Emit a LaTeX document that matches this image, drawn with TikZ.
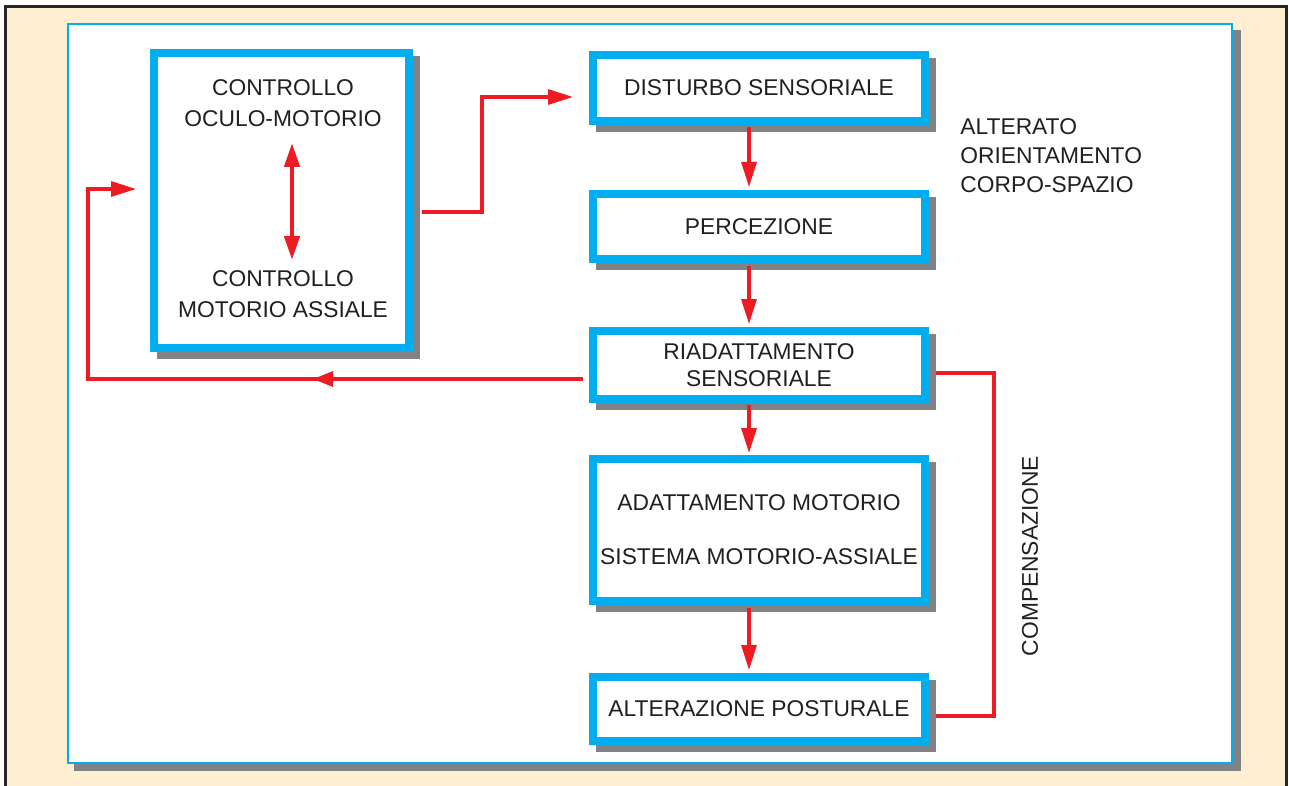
\documentclass[tikz,border=0pt]{standalone}
\usepackage{fontspec}
\setmainfont{Liberation Sans}
\usetikzlibrary{arrows.meta,decorations.markings}
\definecolor{cyanb}{HTML}{00AEEF}
\definecolor{redl}{HTML}{ED1C24}
\definecolor{sgray}{HTML}{808285}
\definecolor{cream}{HTML}{FEEED2}
\definecolor{txt}{HTML}{231F20}
\pgfdeclarelayer{bgl}
\pgfdeclarelayer{shl}
\pgfsetlayers{bgl,shl,main}
\begin{document}
\begin{tikzpicture}[x=0.5pt,y=-0.5pt,
  font=\fontsize{11.4}{13.5}\selectfont, text=txt,
  boxn/.style={draw=cyanb, line width=4pt, fill=white, inner sep=0pt, align=center},
  lbl/.style={inner sep=0pt, align=center},
  redline/.style={draw=redl, line width=1.6pt},
  arr/.style={redline, -{Triangle[length=12.5pt,width=7.5pt]}},
  dbl/.style={draw=redl, line width=2.2pt, {Triangle[length=12pt,width=7.5pt]}-{Triangle[length=12pt,width=7.5pt]}},
  shadowof/.style={fill=sgray}
]
\useasboundingbox (0,0) rectangle (1289,786);
\begin{pgfonlayer}{bgl}
  \fill[cream] (5,7) rectangle (1286,790);
  \draw[black!85, line width=1.5pt] (5,790) -- (5,7) -- (1286,7) -- (1286,790);
  \fill[sgray] (74,30) rectangle (1241,771);
  \draw[cyanb, fill=white, line width=1pt] (68,24) rectangle (1232,763);
\end{pgfonlayer}

% boxes
\node[boxn, minimum width=127.5pt, minimum height=147.5pt] (b1) at (281.5,200.5) {};
\node[boxn, minimum width=166pt, minimum height=33pt] (b2) at (759,88) {DISTURBO SENSORIALE};
\node[boxn, minimum width=166pt, minimum height=32.5pt] (b3) at (759,226.5) {PERCEZIONE};
\node[boxn, minimum width=166pt, minimum height=34pt] (b4) at (759,365) {RIADATTAMENTO\\SENSORIALE};
\node[boxn, minimum width=166pt, minimum height=71pt] (b5) at (759,530) {ADATTAMENTO MOTORIO\\[13.5pt]SISTEMA MOTORIO-ASSIALE};
\node[boxn, minimum width=166pt, minimum height=32pt] (b6) at (759,709) {ALTERAZIONE POSTURALE};

\begin{pgfonlayer}{shl}
  \foreach \b in {b1,b2,b3,b4,b5,b6}{
    \fill[shadowof] ([shift={(7,7)}]\b.north west) rectangle ([shift={(7,7)}]\b.south east);
  }
\end{pgfonlayer}

% texts inside box 1
\node[lbl, font=\fontsize{11.4}{15.5}\selectfont] (t1a) at (283,103) {CONTROLLO\\OCULO-MOTORIO};
\node[lbl, font=\fontsize{11.4}{15.5}\selectfont] (t1b) at (283,294) {CONTROLLO\\MOTORIO ASSIALE};

% side texts
\node[lbl, align=left, anchor=west, font=\fontsize{11.4}{14.5}\selectfont] (alt) at (960,156) {ALTERATO\\ORIENTAMENTO\\CORPO-SPAZIO};
\node[lbl, rotate=90] (comp) at (1030,556) {COMPENSAZIONE};

% connectors
\coordinate (da) at (292,143);
\coordinate (db) at (292,260);
\draw[dbl] (da) -- (db);

\draw[arr, shorten <=4.5pt, shorten >=8pt] (b1.east |- 0,212) -- (482,212) |- (b2.west |- 0,97);
\draw[arr, shorten <=1pt, shorten >=1.5pt] (b2.south -| 749,0) -- (b3.north -| 749,0);
\draw[arr, shorten <=1.5pt, shorten >=1.5pt] (b3.south -| 749,0) -- (b4.north -| 749,0);
\draw[arr, shorten <=1pt, shorten >=1pt] (b4.south -| 749,0) -- (b5.north -| 749,0);
\draw[arr, shorten <=1.5pt, shorten >=1.5pt] (b5.south -| 749,0) -- (b6.north -| 749,0);

\draw[arr, shorten <=3pt, shorten >=7pt,
  postaction={decorate, decoration={markings,
    mark=at position 138pt with {\arrow{Triangle[length=10pt,width=7.5pt]}}}}]
  (b4.west |- 0,379) -- (88,379) |- (b1.west |- 0,189);

\draw[redline, shorten <=3.5pt, shorten >=3.5pt] (b4.east |- 0,373) -- (994,373) |- (b6.east |- 0,716);
\end{tikzpicture}
\end{document}
